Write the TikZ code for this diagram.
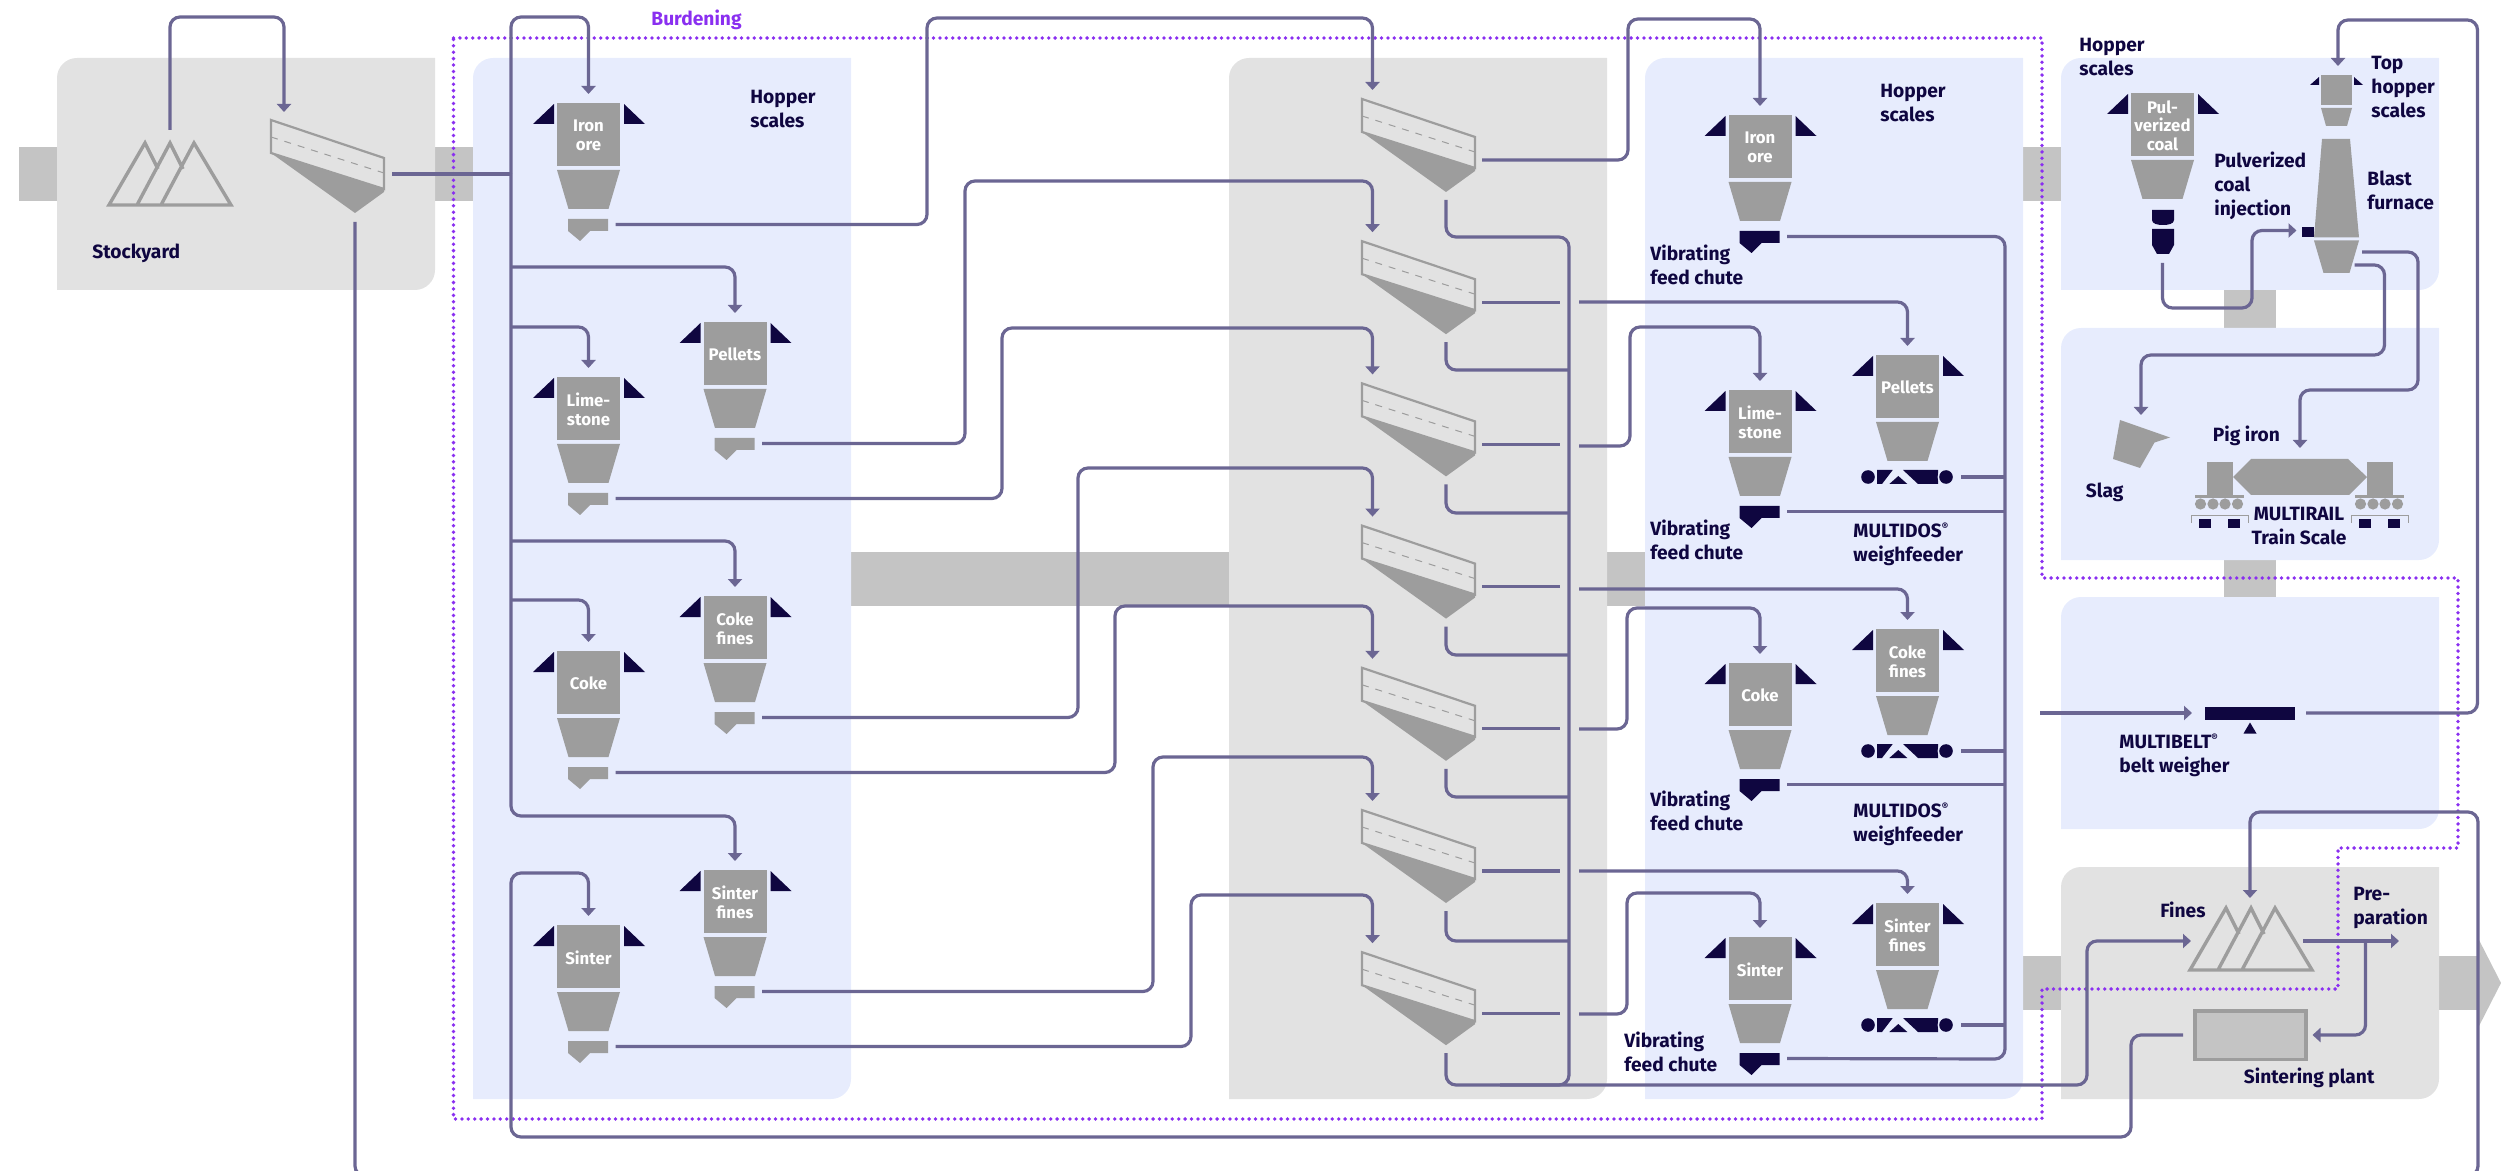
\documentclass[tikz,border=0pt]{standalone}
\usepackage{fontspec}
\setmainfont{Fira Sans}
\usetikzlibrary{arrows.meta}
\definecolor{navy}{HTML}{0F0640}
\definecolor{steel}{HTML}{9D9D9D}
\definecolor{conveyor}{HTML}{6B6693}
\definecolor{burden}{HTML}{8A2FF0}
\definecolor{panelblue}{HTML}{E7ECFD}
\definecolor{panelgrey}{HTML}{E2E2E2}
\definecolor{bandgrey}{HTML}{C4C4C4}
\newcommand{\roundpanel}[5]{\fill[#5] (#1,#4) -- (#1,#2+20) arc[start angle=180,end angle=90,radius=10pt] -- (#3,#2) -- (#3,#4-20) arc[start angle=0,end angle=-90,radius=10pt] -- cycle;}
\newcommand{\regmark}{\raisebox{3.4pt}{\fontsize{5}{6}\selectfont ®}}
\tikzset{
  conv/.style={draw=conveyor,line width=1.6pt,rounded corners=5pt},
  convto/.style={conv,-{Triangle[width=7pt,length=4pt]}},
  lbl/.style={font=\bfseries\fontsize{9.6}{12}\selectfont,text=navy,align=left,anchor=west,inner sep=0pt},
  hoplbl/.style={font=\bfseries\fontsize{8.4}{9.3}\selectfont,text=white,align=center,inner sep=0pt},
  hopper/.pic={
    \fill[steel] (-31.5,0) rectangle (31.5,63);
    \fill[steel] (-31.5,67) -- (31.5,67) -- (20,106) -- (-20,106) -- cycle;
    \fill[navy] (-34.5,1) -- (-34.5,21) -- (-55.5,21) -- cycle;
    \fill[navy] (35.5,1) -- (35.5,21) -- (56.5,21) -- cycle;
    \path[fill=#1] (-20.5,116) -- (19.5,116) -- (19.5,128) -- (1.5,128) -- (-8.5,138) -- (-20.5,128) -- cycle;
    \node[hoplbl] (-name) at (0,32.5) {\tikzpictext};
    \coordinate (-in) at (0,-9);
    \coordinate (-out) at (27,121.5);
  },
  screen/.pic={
    \draw[steel,line width=1.1pt] (0,0) -- (113,38) -- (113,69) -- (0,33) -- cycle;
    \draw[steel,line width=0.5pt,dash pattern=on 3.5pt off 3.5pt] (0,17) -- (113,53);
    \fill[steel] (0,33) -- (113,69) -- (113,72) -- (84,93) -- cycle;
    \coordinate (-in) at (10.5,-9);
    \coordinate (-out) at (120,61);
    \coordinate (-drain) at (84,101);
  },
  pile/.pic={
    \draw[steel,line width=1.7pt,line join=miter] (28,62) -- (61,0) -- (74,26) (52,62) -- (85,0) -- (122,62) -- (0,62) -- (36,0) -- (49,26);
  },
  feeder/.pic={
    \fill[navy] (-30,-7) -- (-14.3,-7) -- (-25,7) -- (-30,7) -- cycle;
    \fill[navy] (-4,-7) -- (31,-7) -- (31,7) -- (11,7) -- cycle;
    \fill[navy] (-8.7,-1) -- (0.3,7) -- (-17.7,7) -- cycle;
    \fill[panelblue] (-39,0) circle[radius=4.2pt];
    \fill[panelblue] (39,0) circle[radius=4.2pt];
    \fill[navy] (-39,0) circle[radius=3.4pt];
    \fill[navy] (39,0) circle[radius=3.4pt];
    \coordinate (-out) at (54,0);
  },
  wheelset/.pic={
    \fill[steel] (0,0) rectangle (26,-33);
    \fill[steel] (-12,0) rectangle (37,3);
    \foreach \w in {-6.5,6,18,30.5} \fill[steel] (\w,9) circle[radius=2.8pt];
    \draw[steel,line width=0.5pt] (-16,28) -- (-16,21) -- (41,21) -- (41,28);
    \fill[navy] (-8,24) rectangle (3.7,33);
    \fill[navy] (21,24) rectangle (33,33);
  }
}
\begin{document}
\begin{tikzpicture}[x=0.5pt,y=-0.5pt]
\useasboundingbox (0,0) rectangle (2501,1171);
\fill[bandgrey] (19,147) rectangle (473,201);
\fill[bandgrey] (851,552) rectangle (1645,606);
\fill[bandgrey] (2023,147) rectangle (2061,201);
\fill[bandgrey] (2224,290) rectangle (2276,328);
\fill[bandgrey] (2224,560) rectangle (2276,597);
\fill[bandgrey] (2023,956) rectangle (2478,1010);
\fill[bandgrey] (2478,938) -- (2501,983) -- (2478,1028) -- cycle;
\roundpanel{57}{58}{435}{290}{panelgrey}
\roundpanel{473}{58}{851}{1099}{panelblue}
\roundpanel{1229}{58}{1607}{1099}{panelgrey}
\roundpanel{1645}{58}{2023}{1099}{panelblue}
\roundpanel{2061}{58}{2439}{290}{panelblue}
\roundpanel{2061}{328}{2439}{560}{panelblue}
\roundpanel{2061}{597}{2439}{829}{panelblue}
\roundpanel{2061}{867}{2439}{1099}{panelgrey}
\draw[burden,line width=1.9pt,line cap=round,dash pattern=on 0pt off 3.2pt] (453.5,38) -- (2042,38) -- (2042,578) -- (2458,578) -- (2458,848) -- (2338,848) -- (2338,989) -- (2042,989) -- (2042,1119) -- (453.5,1119) -- cycle;
\node[lbl,text=burden] (burdening) at (651,20) {Burdening};

\pic (pileY) at (109,143) {pile};
\pic (scrY) at (271,120) {screen};
\pic (ironL) at (588.5,103) [pic text={Iron\\ore}] {hopper=steel};
\pic (limeL) at (588.5,377) [pic text={Lime-\\stone}] {hopper=steel};
\pic (cokeL) at (588.5,651) [pic text={Coke}] {hopper=steel};
\pic (sinL) at (588.5,925) [pic text={Sinter}] {hopper=steel};
\pic (pelL) at (735,322) [pic text={Pellets}] {hopper=steel};
\pic (cokfL) at (735,596) [pic text={Coke\\fines}] {hopper=steel};
\pic (sinfL) at (735,870) [pic text={Sinter\\fines}] {hopper=steel};
\foreach \i in {1,...,7} \pic (scr\i) at (1362,{99+142.2*(\i-1)}) {screen};
\pic (ironR) at (1760,115) [pic text={Iron\\ore}] {hopper=navy};
\pic (limeR) at (1760,390) [pic text={Lime-\\stone}] {hopper=navy};
\pic (cokeR) at (1760,663) [pic text={Coke}] {hopper=navy};
\pic (sinR) at (1760,937) [pic text={Sinter}] {hopper=navy};
\pic (pelR) at (1907.5,355) [pic text={Pellets}] {hopper=none};
\pic (cokfR) at (1907.5,629) [pic text={Coke\\fines}] {hopper=none};
\pic (sinfR) at (1907.5,903) [pic text={Sinter\\fines}] {hopper=none};
\pic (feedA) at (1907,477) {feeder};
\pic (feedB) at (1907,751) {feeder};
\pic (feedC) at (1907,1025) {feeder};

\pic (coal) at (2162.5,93) [pic text={Pul-\\verized\\coal}] {hopper=none};
\fill[navy] (2152,210) -- (2174,210) -- (2174,220) .. controls (2174,224) and (2168,225) .. (2163,225) .. controls (2158,225) and (2152,224) .. (2152,220) -- cycle;
\fill[navy] (2152,229) -- (2174,229) -- (2174,245) -- (2169,254) -- (2157,254) -- (2152,245) -- cycle;
\coordinate (coal-down) at (2162.5,263);
\fill[steel] (2321,75.5) rectangle (2352,105);
\fill[steel] (2321,108) -- (2352,108) -- (2347,126) -- (2326,126) -- cycle;
\fill[navy] (2319,77) -- (2319,85) -- (2310,85) -- cycle;
\fill[navy] (2354,77) -- (2354,85) -- (2363,85) -- cycle;
\fill[steel] (2322,139) -- (2350,139) -- (2359,237.5) -- (2314,237.5) -- cycle;
\fill[steel] (2314,240.5) -- (2359,240.5) -- (2349.5,273) -- (2323.5,273) -- cycle;
\fill[navy] (2302,227) rectangle (2314,237);
\fill[steel] (2120,420) -- (2170,437.5) -- (2154.5,442.5) -- (2140,468) -- (2113,459) -- cycle;
\fill[steel] (2233,477) -- (2251,459) -- (2348,459) -- (2367,477) -- (2349,495) -- (2251,495) -- cycle;
\pic (carL) at (2207,495) {wheelset};
\pic (carR) at (2367,495) {wheelset};
\fill[navy] (2204.5,707) rectangle (2295,720);
\fill[navy] (2250,722.5) -- (2256.5,733.5) -- (2243.5,733.5) -- cycle;
\pic (pileF) at (2190,908) {pile};
\fill[bandgrey,draw=steel,line width=1.7pt] (2195,1011) rectangle (2306,1059.5);

\coordinate (pileY-top) at (170,130);
\coordinate (scrY-top) at (284,112);
\coordinate (scrY-side) at (392,174);
\coordinate (scrY-drain2) at (355,222);
\coordinate (busL) at (511,174);
\coordinate (sint-side) at (2183,1035);
\coordinate (fines-top) at (2250,898);
\coordinate (fines-side) at (2191,941);
\coordinate (fines-out) at (2303,941);
\coordinate (prep) at (2399,941);
\coordinate (prep-split) at (2365.5,941);
\coordinate (sint-in) at (2312.5,1035);
\coordinate (coal-in) at (2296.5,230.5);
\coordinate (top-in) at (2338,66);
\coordinate (belt-in) at (2192,713);
\coordinate (belt-start) at (2040,713);
\coordinate (belt-out) at (2306,713);
\coordinate (iron-out) at (2362,252);
\coordinate (slag-out) at (2354.5,265);
\coordinate (pig-in) at (2300,448);
\coordinate (slag-in) at (2141,415);
\foreach \n/\y in {a/267,b/327,c/541,d/600} \coordinate (bus\n) at (511,\y);

\draw[convto] (pileY-top) |- (284,17) -- (scrY-top);
\draw[conv] (scrY-side) -- (busL);
\draw[convto] (busL) |- (588.5,17) -- (ironL-in);
\draw[convto] (busL) |- (735,816) -- (sinfL-in);
\draw[convto] (busa) -| (pelL-in);
\draw[convto] (busb) -| (limeL-in);
\draw[convto] (busc) -| (cokfL-in);
\draw[convto] (busd) -| (cokeL-in);
\draw[convto] (sint-side) -| (2131,1137) -| (511,873) -| (sinL-in);
\draw[convto] (scrY-drain2) |- (2478,1176) |- (2250,812) -- (fines-top);

\draw[convto] (ironL-out) -| (927,18) -| (scr1-in);
\draw[convto] (pelL-out) -| (965,181) -| (scr2-in);
\draw[convto] (limeL-out) -| (1002,328) -| (scr3-in);
\draw[convto] (cokfL-out) -| (1078,468) -| (scr4-in);
\draw[convto] (cokeL-out) -| (1115,606) -| (scr5-in);
\draw[convto] (sinfL-out) -| (1153,757) -| (scr6-in);
\draw[convto] (sinL-out) -| (1191,895) -| (scr7-in);

\draw[conv] (scr1-drain) |- (1569,237) |- (1500,1085);
\draw[conv] (scr2-drain) |- (1569,370);
\draw[conv] (scr3-drain) |- (1569,513);
\draw[conv] (scr4-drain) |- (1569,655);
\draw[conv] (scr5-drain) |- (1569,797);
\draw[conv] (scr6-drain) |- (1569,941);
\draw[convto] (scr7-drain) |- (2087,1085) |- (fines-side);

\draw[convto] (scr1-out) -| (1628,19) -| (ironR-in);
\foreach \i in {2,...,7} \draw[conv] (scr\i-out) -- ++(78,0);
\draw[convto] (1579,302) -| (pelR-in);
\draw[convto] (1579,446) -| (1630,327) -| (limeR-in);
\draw[convto] (1579,589) -| (cokfR-in);
\draw[convto] (1579,729) -| (1627,608) -| (cokeR-in);
\draw[convto] (1579,871) -| (sinfR-in);
\draw[convto] (1579,1014) -| (1627,893) -| (sinR-in);

\draw[conv] (ironR-out) -| (2005,1059) -- (sinR-out);
\draw[conv] (limeR-out) -- (2005,511.5);
\draw[conv] (cokeR-out) -- (2005,784.5);
\draw[conv] (feedA-out) -- (2005,477);
\draw[conv] (feedB-out) -- (2005,751);
\draw[conv] (feedC-out) -- (2005,1025);

\draw[convto] (coal-down) |- (2252,308) |- (coal-in);
\draw[convto] (belt-out) -| (2477.5,20) -| (top-in);
\draw[convto] (belt-start) -- (belt-in);
\draw[convto] (iron-out) -| (2418,390) -| (pig-in);
\draw[convto] (slag-out) -| (2384.5,355) -| (slag-in);
\draw[convto] (fines-out) -- (prep);
\draw[convto] (prep-split) |- (sint-in);

\node[lbl] (stockyard) at (92,253) {Stockyard};
\node[lbl] (scalesA) at (750,109) {Hopper\\scales};
\node[lbl] (scalesB) at (1880,103) {Hopper\\scales};
\node[lbl] (chuteA) at (1650,264.5) {Vibrating\\feed chute};
\node[lbl] (chuteB) at (1650,540) {Vibrating\\feed chute};
\node[lbl] (chuteC) at (1650,811) {Vibrating\\feed chute};
\node[lbl] (chuteD) at (1624,1051.5) {Vibrating\\feed chute};
\node[lbl] (weighA) at (1853,544.5) {MULTIDOS\regmark\\weighfeeder};
\node[lbl] (weighB) at (1853,824) {MULTIDOS\regmark\\weighfeeder};
\node[lbl] (scalesC) at (2079,57) {Hopper\\scales};
\node[lbl] (scalesD) at (2371,87) {Top\\hopper\\scales};
\node[lbl] (injection) at (2214,186) {Pulverized\\coal\\injection};
\node[lbl] (furnace) at (2367,190) {Blast\\furnace};
\node[lbl] (slag) at (2085.5,492) {Slag};
\node[lbl] (pig) at (2212.5,435.5) {Pig iron};
\node[lbl,align=center,anchor=center] (rail) at (2299,526.5) {MULTIRAIL\\Train Scale};
\node[lbl] (belt) at (2119,755) {MULTIBELT\regmark\\belt weigher};
\node[lbl] (fines) at (2160,910) {Fines};
\node[lbl] (preparation) at (2353,908) {Pre-\\paration};
\node[lbl] (sintering) at (2243.5,1078) {Sintering plant};
\end{tikzpicture}
\end{document}
